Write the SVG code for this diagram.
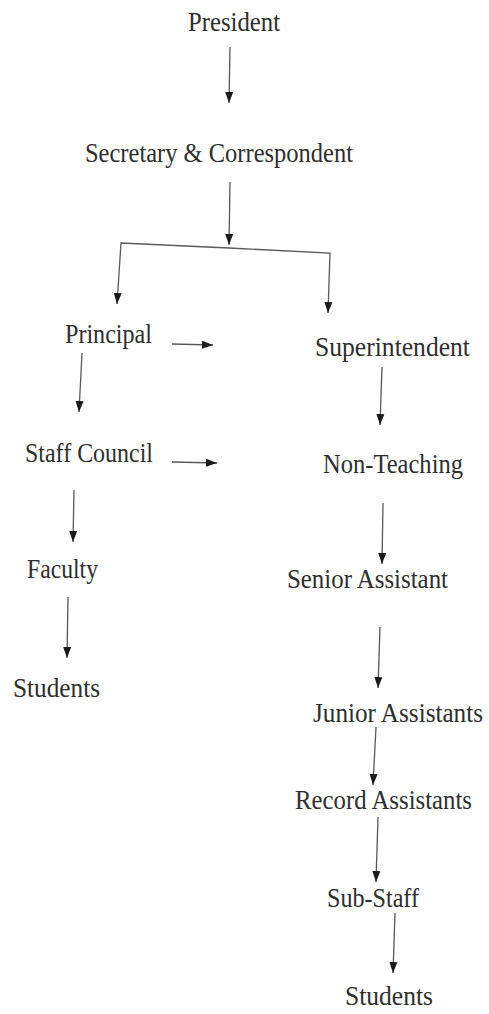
<svg xmlns="http://www.w3.org/2000/svg" width="489" height="1014" viewBox="0 0 489 1014">
  <style>
    .lbl { font-family: "Liberation Serif", "DejaVu Serif", serif; font-size: 24px; fill: #2e2e2e; }
    .con { fill: none; stroke: #5a5a5a; stroke-width: 1.3; }
  </style>
  <defs>
    <marker id="arr" markerUnits="userSpaceOnUse" markerWidth="11" markerHeight="10" viewBox="0 -5 11 10" refX="11" refY="0" orient="auto">
      <path d="M0,-4 L11,0 L0,4 Z" fill="#1a1a1a"/>
    </marker>
  </defs>
  <rect width="489" height="1014" fill="#ffffff"/>

  <g id="connectors">
    <path class="con" d="M230,47 L229,103" marker-end="url(#arr)"/>
    <path class="con" d="M230,182 L229,245" marker-end="url(#arr)"/>
    <path class="con" d="M229,248 L121,243 L117,304" marker-end="url(#arr)"/>
    <path class="con" d="M229,248 L330,253 L328,313" marker-end="url(#arr)"/>
    <path class="con" d="M172,344 L213,345" marker-end="url(#arr)"/>
    <path class="con" d="M82,353 L79,412" marker-end="url(#arr)"/>
    <path class="con" d="M382,367 L380,425" marker-end="url(#arr)"/>
    <path class="con" d="M172,462 L217,463" marker-end="url(#arr)"/>
    <path class="con" d="M74,490 L73,542" marker-end="url(#arr)"/>
    <path class="con" d="M383,503 L382,564" marker-end="url(#arr)"/>
    <path class="con" d="M68,597 L67,658" marker-end="url(#arr)"/>
    <path class="con" d="M380,627 L378,688" marker-end="url(#arr)"/>
    <path class="con" d="M376,727 L373,785" marker-end="url(#arr)"/>
    <path class="con" d="M378,817 L376,882" marker-end="url(#arr)"/>
    <path class="con" d="M395,913 L393,973" marker-end="url(#arr)"/>
  </g>

  <g id="president"><text class="lbl" transform="translate(188,31) scale(1,1.18)" textLength="92" lengthAdjust="spacingAndGlyphs">President</text></g>
  <g id="secretary"><text class="lbl" transform="translate(85,162) scale(1,1.18)" textLength="268" lengthAdjust="spacingAndGlyphs">Secretary &amp; Correspondent</text></g>
  <g id="principal"><text class="lbl" transform="translate(65,343) scale(1,1.18)" textLength="87" lengthAdjust="spacingAndGlyphs">Principal</text></g>
  <g id="superintendent"><text class="lbl" transform="translate(315,356) scale(1,1.18)" textLength="155" lengthAdjust="spacingAndGlyphs">Superintendent</text></g>
  <g id="staff-council"><text class="lbl" transform="translate(25,462) scale(1,1.18)" textLength="128" lengthAdjust="spacingAndGlyphs">Staff Council</text></g>
  <g id="non-teaching"><text class="lbl" transform="translate(323,473) scale(1,1.18)" textLength="140" lengthAdjust="spacingAndGlyphs">Non-Teaching</text></g>
  <g id="faculty"><text class="lbl" transform="translate(27,578) scale(1,1.18)" textLength="71" lengthAdjust="spacingAndGlyphs">Faculty</text></g>
  <g id="senior-assistant"><text class="lbl" transform="translate(287,588) scale(1,1.18)" textLength="161" lengthAdjust="spacingAndGlyphs">Senior Assistant</text></g>
  <g id="students-left"><text class="lbl" transform="translate(13,697) scale(1,1.18)" textLength="87" lengthAdjust="spacingAndGlyphs">Students</text></g>
  <g id="junior-assistants"><text class="lbl" transform="translate(313,722) scale(1,1.18)" textLength="170" lengthAdjust="spacingAndGlyphs">Junior Assistants</text></g>
  <g id="record-assistants"><text class="lbl" transform="translate(295,809) scale(1,1.18)" textLength="177" lengthAdjust="spacingAndGlyphs">Record Assistants</text></g>
  <g id="sub-staff"><text class="lbl" transform="translate(327,907) scale(1,1.18)" textLength="92" lengthAdjust="spacingAndGlyphs">Sub-Staff</text></g>
  <g id="students-right"><text class="lbl" transform="translate(345,1005) scale(1,1.18)" textLength="88" lengthAdjust="spacingAndGlyphs">Students</text></g>
</svg>
